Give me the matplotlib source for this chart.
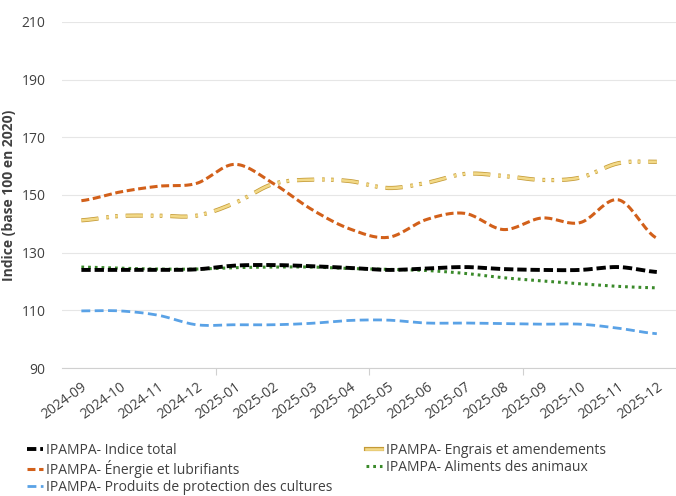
import numpy as np
import matplotlib
matplotlib.use("Agg")
import matplotlib.pyplot as plt
import matplotlib.patheffects as pe
from matplotlib.lines import Line2D

plt.rcParams['font.family'] = ['Open Sans', 'DejaVu Sans']

months = ["2024-09", "2024-10", "2024-11", "2024-12", "2025-01", "2025-02",
          "2025-03", "2025-04", "2025-05", "2025-06", "2025-07", "2025-08",
          "2025-09", "2025-10", "2025-11", "2025-12"]

total = [124.0, 124.0, 124.0, 124.2, 125.5, 125.7, 125.3, 124.7, 124.0, 124.5,
         125.0, 124.3, 124.0, 124.0, 125.0, 123.3]
engrais = [141.2, 142.7, 142.8, 142.8, 147.2, 153.8, 155.3, 154.8, 152.4, 154.2,
           157.3, 156.6, 155.2, 156.0, 161.0, 161.5]
energie = [148.0, 151.0, 153.0, 154.0, 160.6, 154.0, 145.0, 138.2, 135.3, 141.5,
           143.6, 138.0, 142.0, 140.4, 148.3, 135.0]
aliments = [125.0, 124.6, 124.3, 124.3, 124.8, 125.0, 125.0, 124.5, 124.2, 123.8,
            122.8, 121.3, 120.2, 119.2, 118.3, 117.8]
produits = [109.8, 109.8, 108.3, 105.0, 105.0, 105.0, 105.5, 106.5, 106.6, 105.6,
            105.6, 105.4, 105.2, 105.2, 103.8, 101.9]


def smooth(y, n=20):
    # catmull-rom rendering, like Excel's smoothed lines
    y = np.asarray(y, float)
    x = np.arange(len(y), dtype=float)
    p = np.concatenate([[y[0]], y, [y[-1]]])
    xs, ys = [], []
    for i in range(len(y) - 1):
        t = np.linspace(0, 1, n, endpoint=False)
        p0, p1, p2, p3 = p[i], p[i + 1], p[i + 2], p[i + 3]
        yy = 0.5 * ((2 * p1) + (-p0 + p2) * t + (2 * p0 - 5 * p1 + 4 * p2 - p3) * t ** 2
                    + (-p0 + 3 * p1 - 3 * p2 + p3) * t ** 3)
        xs.append(x[i] + t)
        ys.append(yy)
    xs.append([x[-1]])
    ys.append([y[-1]])
    return np.concatenate(xs), np.concatenate(ys)


fig = plt.figure(figsize=(6.76, 4.96), dpi=100)
ax = fig.add_axes([0.092, 0.258, 0.908, 0.698])

grid_c = "#e6e6e6"
for v in range(90, 211, 20):
    ax.axhline(v, color=grid_c, lw=0.8, zorder=0)

c_total = "#000000"
c_engr = "#f2d988"
c_engr_edge = "#c49a36"
c_ener = "#d2601a"
c_alim = "#3a8a2a"
c_prod = "#5aa2e6"

engr_fx = [pe.Stroke(linewidth=3.0, foreground=c_engr_edge), pe.Normal()]

x, y = smooth(produits)
ax.plot(x, y, color=c_prod, lw=2, dashes=(3.2, 1.6), zorder=3)
x, y = smooth(aliments)
ax.plot(x, y, color=c_alim, lw=2.2, dashes=(0.9, 1.3), zorder=4)
x, y = smooth(total)
ax.plot(x, y, color=c_total, lw=2.8, dashes=(2.4, 1.0), zorder=5)
x, y = smooth(energie)
ax.plot(x, y, color=c_ener, lw=2.2, dashes=(2.6, 1.2), zorder=4)
x, y = smooth(engrais)
ax.plot(x, y, color=c_engr, lw=1.9, dashes=(6.5, 3.0, 1.0, 2.4, 1.0, 3.0), zorder=4,
        path_effects=engr_fx)

ax.set_xlim(-0.5, len(months) - 0.5)
ax.set_ylim(90, 210)
ax.set_yticks(range(90, 211, 20))
ax.set_xticks(range(len(months)))
ax.set_xticklabels(months, rotation=36, ha='right', rotation_mode='anchor')
ax.set_xticks([3.5, 7.5, 11.5], minor=True)
ax.tick_params(axis='x', which='major', length=0, pad=8, labelsize=10, labelcolor="#404040")
ax.tick_params(axis='x', which='minor', length=5, color="#d0d0d0", width=0.8)
ax.tick_params(axis='y', length=0, labelsize=10, labelcolor="#404040", pad=12)
for s in ["top", "right", "left"]:
    ax.spines[s].set_visible(False)
ax.spines["bottom"].set_color("#d0d0d0")
ax.spines["bottom"].set_linewidth(0.8)

ax.set_ylabel("Indice (base 100 en 2020)", fontsize=10, fontweight='bold',
              color="#404040", labelpad=4)

h_total = Line2D([], [], color=c_total, lw=2.8, dashes=(2.4, 1.0))
h_ener = Line2D([], [], color=c_ener, lw=2.2, dashes=(2.6, 1.2))
h_prod = Line2D([], [], color=c_prod, lw=2, dashes=(3.2, 1.6))
h_engr = Line2D([], [], color=c_engr, lw=1.9, path_effects=engr_fx)
h_alim = Line2D([], [], color=c_alim, lw=2.2, dashes=(0.9, 1.3))
leg = fig.legend([h_total, h_ener, h_prod, h_engr, h_alim],
                 ["IPAMPA- Indice total", "IPAMPA- Énergie et lubrifiants",
                  "IPAMPA- Produits de protection des cultures",
                  "IPAMPA- Engrais et amendements", "IPAMPA- Aliments des animaux"],
                 ncol=2, loc='upper left', bbox_to_anchor=(0.04, 0.107),
                 borderaxespad=0, borderpad=0,
                 frameon=False, fontsize=10, handlelength=1.15, handletextpad=0.25,
                 columnspacing=2.4, labelspacing=0.15)
for t in leg.get_texts():
    t.set_color("#404040")

fig.savefig("out.png", dpi=100)
